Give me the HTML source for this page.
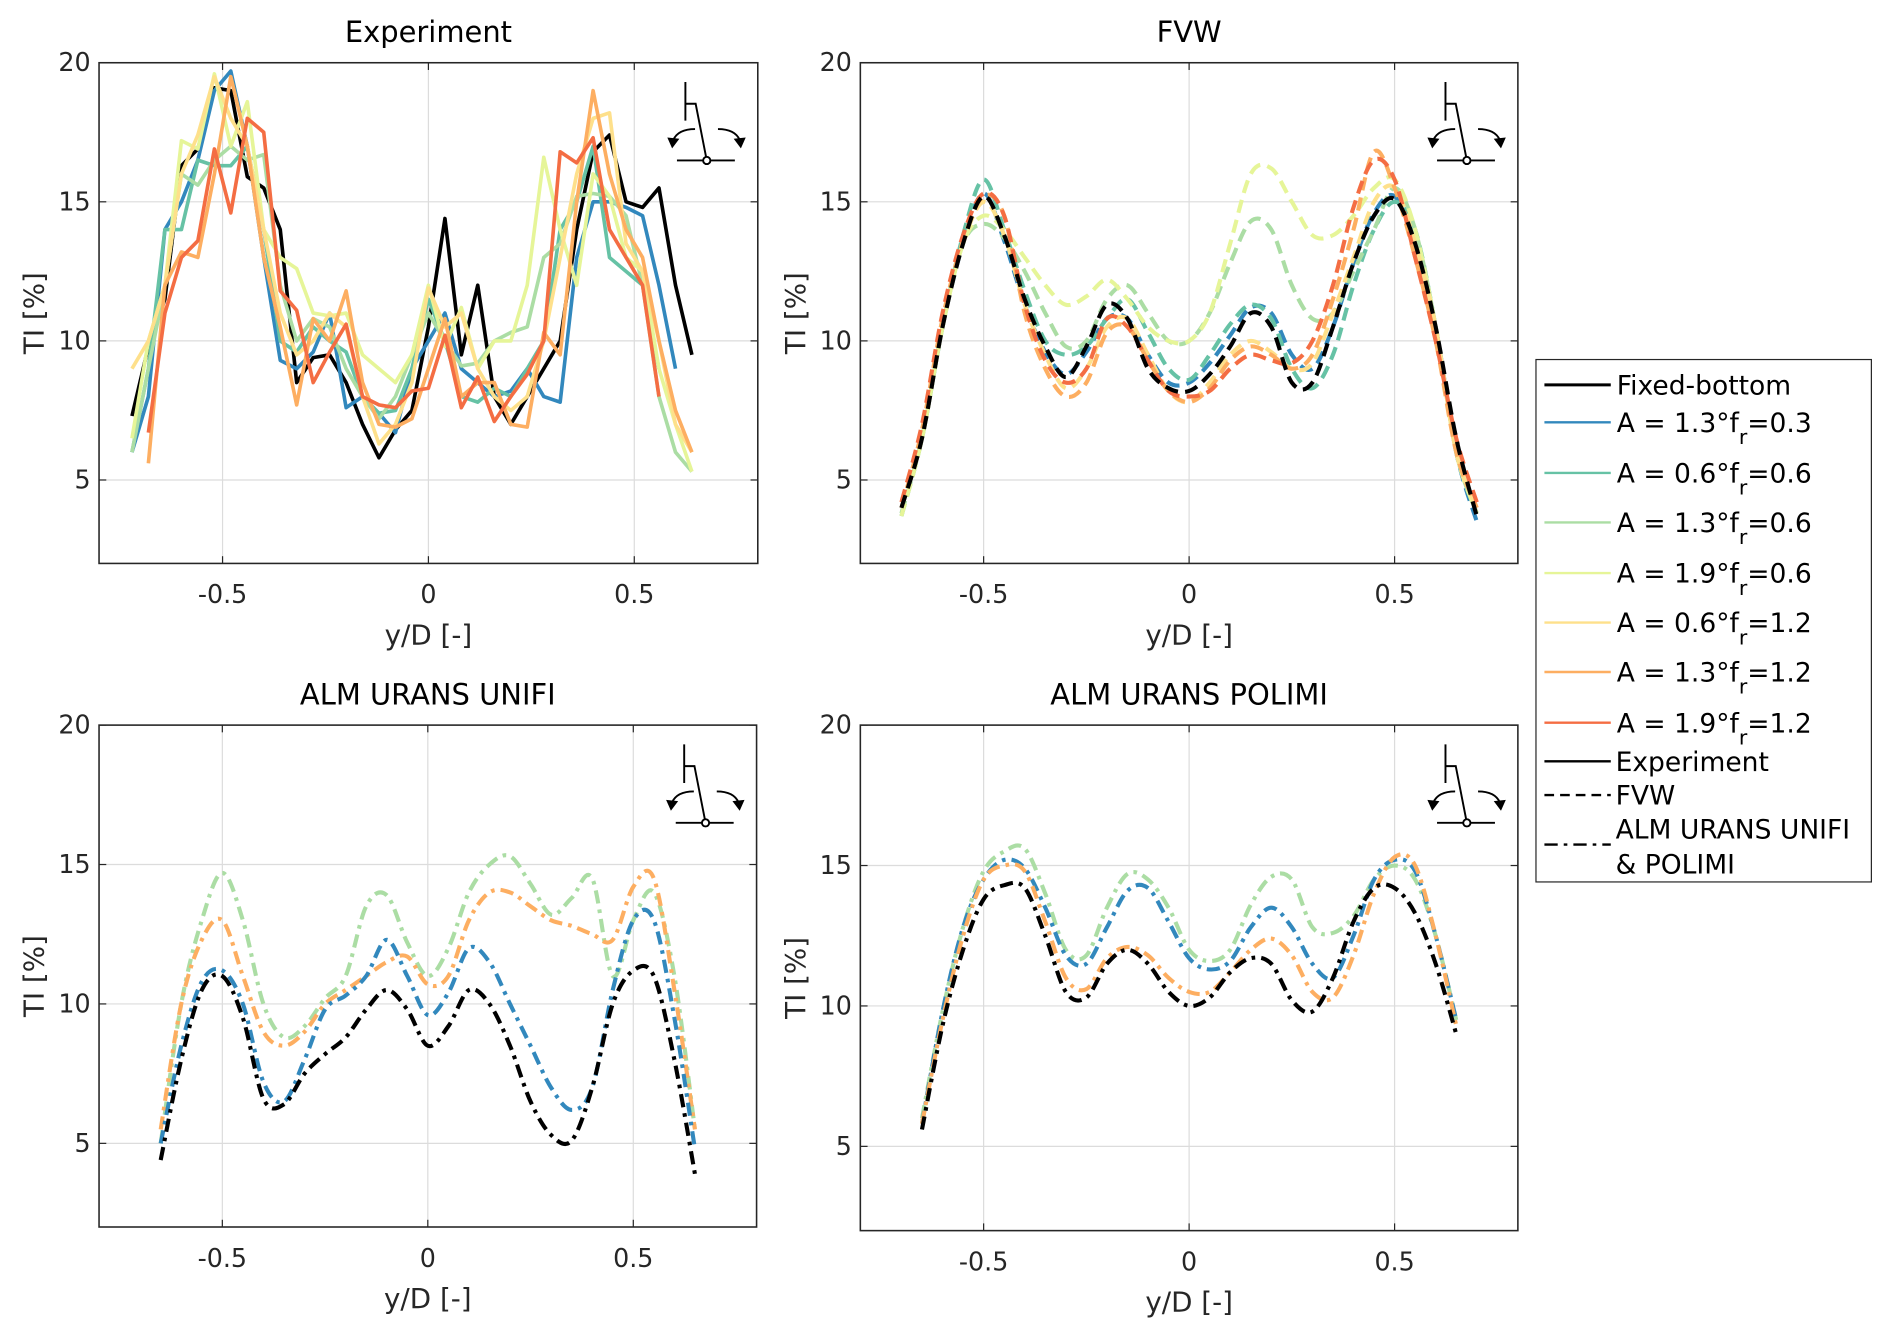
<!DOCTYPE html>
<html><head><meta charset="utf-8"><style>
html,body{margin:0;padding:0;background:#fff;}
svg{display:block;font-family:"DejaVu Sans","Liberation Sans",sans-serif;}
</style></head><body>
<svg id="chart" width="1892" height="1338" viewBox="0 0 1568 1109" xmlns="http://www.w3.org/2000/svg"></svg>
<script>
// ---------- data ----------
const seriesNames = ["Fixed-bottom","A = 1.3°f=0.3","A = 0.6°f=0.6","A = 1.3°f=0.6","A = 1.9°f=0.6","A = 0.6°f=1.2","A = 1.3°f=1.2","A = 1.9°f=1.2"];
const seriesColors = ["#000000","#3288bd","#66c2a5","#abdda4","#e6f598","#fee08b","#fdae61","#f46d43"];
const yTicks = [5,10,15,20];
const xTicks = [-0.5,0,0.5];
const xTickLabels = ["-0.5","0","0.5"];

// Experiment: x grid -0.72 .. 0.68 step 0.04
const expX = [-0.72,-0.68,-0.64,-0.60,-0.56,-0.52,-0.48,-0.44,-0.40,-0.36,-0.32,-0.28,-0.24,-0.20,-0.16,-0.12,-0.08,-0.04,0,0.04,0.08,0.12,0.16,0.20,0.24,0.28,0.32,0.36,0.40,0.44,0.48,0.52,0.56,0.60,0.64,0.68];
const expBlack = [7.3,9.8,11.5,16.3,16.9,19.1,19.0,15.9,15.5,14.0,8.5,9.4,9.5,8.5,7.0,5.8,6.8,7.5,10.5,14.4,9.5,12.0,8.0,7.0,8.0,9.0,10.0,14.0,16.8,17.4,15.0,14.8,15.5,12.0,9.5,null];
const expBlue = [6.0,8.0,14.0,15.0,16.5,19.0,19.7,17.0,13.0,9.3,9.0,9.6,11.0,7.6,8.0,7.4,6.7,9.0,10.0,11.0,9.0,8.5,8.0,8.2,9.0,8.0,7.8,13.0,15.0,15.0,14.8,14.5,12.0,9.0,null,null];
const expGreen = [6.0,9.0,14.0,14.0,16.5,16.3,16.3,17.0,14.0,10.0,9.6,10.5,10.0,9.6,8.0,7.4,7.5,9.0,11.5,10.0,8.0,7.8,8.3,8.0,9.0,10.0,14.0,15.0,17.0,13.0,12.5,12.0,9.0,null,null,null];
const expLightGreen = [6.0,9.0,12.0,16.0,15.6,16.5,17.0,16.5,16.7,12.0,10.0,10.8,10.5,9.0,8.0,7.2,8.0,9.5,11.0,10.0,9.1,9.2,10.0,10.3,10.5,13.0,13.5,15.2,15.3,15.2,14.5,12.0,8.0,6.0,5.3,null];
const expYellowGreen = [6.5,10.0,12.0,17.2,16.9,19.6,17.0,18.6,14.0,13.0,12.6,11.0,10.9,11.0,9.5,9.0,8.5,9.5,12.0,9.8,11.2,9.0,10.0,10.0,12.0,16.6,14.0,12.0,16.0,15.2,13.0,12.5,9.0,7.0,5.3,null];
const expYellow = [9.0,10.0,12.0,16.0,17.4,19.5,18.0,17.0,14.0,11.0,9.5,10.0,11.0,10.5,8.0,6.3,7.0,8.5,11.9,10.5,11.0,9.0,8.0,7.5,8.0,10.0,13.0,16.0,18.0,18.2,13.5,12.5,10.0,7.0,6.0,null];
const expOrange = [null,5.6,12.0,13.2,13.0,16.0,19.5,17.0,13.0,10.5,7.7,10.8,10.0,11.8,8.5,7.0,6.9,7.2,9.0,10.8,8.0,8.5,8.5,7.0,6.9,10.3,9.5,15.0,19.0,16.0,14.0,13.0,10.0,7.5,6.0,null];
const expRed = [null,6.7,11.0,13.0,13.6,16.9,14.6,18.0,17.5,11.8,11.1,8.5,9.6,10.6,8.0,7.7,7.6,8.2,8.3,10.2,7.6,8.7,7.1,8.0,8.8,10.0,16.8,16.4,17.3,14.0,13.0,12.0,8.0,null,null,null];

// FVW: x grid -0.70 .. 0.70 step 0.05
const fvwX = [-0.70,-0.65,-0.60,-0.55,-0.50,-0.45,-0.40,-0.35,-0.30,-0.25,-0.20,-0.15,-0.10,-0.05,0,0.05,0.10,0.15,0.20,0.25,0.30,0.35,0.40,0.45,0.50,0.55,0.60,0.65,0.70];
const fvwBlack = [4.0,6.5,10.5,13.5,15.2,13.8,11.5,9.8,8.7,9.8,11.3,10.8,9.0,8.3,8.2,8.8,9.8,11.0,10.5,8.5,8.5,10.5,12.8,14.5,15.1,13.5,10.5,6.5,3.7];
const fvwBlue = [4.0,6.5,10.5,13.5,15.3,13.6,11.3,9.6,8.8,9.6,10.8,10.8,9.5,8.5,8.5,9.2,10.2,11.2,11.0,9.5,9.0,10.5,12.8,14.6,15.2,13.5,10.5,6.0,3.5];
const fvwGreen = [3.7,6.5,10.5,13.8,15.8,14.0,11.8,10.0,9.5,9.8,10.8,11.5,10.3,9.0,8.6,9.5,10.6,11.3,10.8,9.0,8.3,9.5,12.0,14.0,15.0,14.0,10.5,6.0,3.8];
const fvwLightGreen = [3.8,6.5,10.5,13.5,14.2,13.7,12.5,11.0,9.8,10.0,11.5,12.0,11.0,10.0,10.0,11.0,12.8,14.3,14.0,12.0,10.8,11.0,12.5,14.0,15.5,14.0,10.5,6.0,3.8];
const fvwYellowGreen = [3.7,6.5,10.5,13.5,14.5,14.0,13.0,12.0,11.3,11.6,12.2,11.5,10.5,10.0,10.0,11.0,13.5,16.0,16.2,15.0,13.8,13.8,14.5,15.5,15.8,14.0,10.5,6.0,3.8];
const fvwYellow = [4.0,6.5,10.5,13.5,15.0,13.8,11.3,9.5,8.3,9.0,10.5,10.8,9.5,8.2,7.8,8.5,9.5,10.0,9.6,9.0,9.2,11.0,13.0,15.0,15.5,13.5,10.5,6.0,4.0];
const fvwOrange = [4.0,6.8,10.8,13.6,15.2,14.5,11.0,9.0,8.0,8.5,10.3,10.5,9.3,8.2,7.8,8.3,9.3,9.8,9.5,9.0,9.5,11.5,14.0,16.8,15.5,13.0,10.0,6.0,4.0];
const fvwRed = [4.2,7.0,11.0,13.8,15.3,14.5,11.3,9.3,8.5,9.0,10.8,10.5,9.3,8.2,8.0,8.2,9.0,9.5,9.3,9.2,10.0,12.0,14.8,16.5,15.8,13.0,10.0,6.5,4.2];

// ALM: x grid -0.65 .. 0.65 step 0.05
const almX = [-0.65,-0.60,-0.55,-0.50,-0.45,-0.40,-0.35,-0.30,-0.25,-0.20,-0.15,-0.10,-0.05,0,0.05,0.10,0.15,0.20,0.25,0.30,0.35,0.40,0.45,0.50,0.55,0.60,0.65];
const unifiBlack = [4.4,8.0,10.5,11.0,9.5,6.6,6.4,7.5,8.2,8.8,9.8,10.5,9.8,8.5,9.2,10.5,10.0,8.5,6.5,5.3,5.1,7.0,10.0,11.2,11.0,8.0,3.9];
const unifiBlue = [5.0,8.5,10.8,11.2,10.0,7.2,6.5,8.0,9.8,10.3,11.0,12.3,11.0,9.6,10.4,12.0,11.5,10.0,8.5,7.0,6.2,7.0,10.5,13.0,13.0,9.5,4.8];
const unifiLightGreen = [5.0,10.0,13.0,14.7,13.0,10.0,8.8,9.2,10.2,11.0,13.5,13.9,12.2,11.0,12.0,14.0,15.0,15.3,14.3,13.2,13.8,14.5,11.0,13.0,14.0,11.0,5.5];
const unifiOrange = [5.5,10.0,12.3,13.0,11.0,9.0,8.5,9.0,10.0,10.5,11.0,11.5,11.7,10.7,11.0,13.0,14.0,14.0,13.5,13.0,12.8,12.5,12.3,14.2,14.5,10.5,5.5];
const polimiBlack = [5.6,9.3,12.0,13.8,14.3,14.2,12.5,10.5,10.3,11.5,12.0,11.5,10.5,10.0,10.3,11.2,11.7,11.5,10.2,9.8,11.0,13.0,14.2,14.2,13.3,11.5,9.0];
const polimiBlue = [5.8,9.8,12.8,14.5,15.2,14.9,13.5,11.8,11.5,12.8,14.1,14.2,13.0,11.7,11.3,11.6,12.8,13.5,12.8,11.5,11.0,12.5,14.5,15.2,14.8,12.5,9.5];
const polimiLightGreen = [6.0,9.8,12.8,14.8,15.5,15.6,14.0,12.0,11.8,13.5,14.7,14.5,13.5,12.0,11.6,12.0,13.6,14.6,14.5,12.8,12.6,13.2,14.5,15.0,14.5,12.5,9.5];
const polimiOrange = [5.8,9.5,12.5,14.5,15.0,14.8,13.0,11.0,10.6,11.7,12.1,11.8,11.0,10.5,10.5,11.2,12.0,12.4,11.8,10.5,10.3,11.8,14.0,15.3,15.0,12.5,9.3];

// ---------- drawing ----------
const NS = "http://www.w3.org/2000/svg";
const svg = document.getElementById("chart");
function mk(tag, attrs, parent) {
  const e = document.createElementNS(NS, tag);
  for (const k in attrs) e.setAttribute(k, attrs[k]);
  (parent || svg).appendChild(e);
  return e;
}
const panels = [
  {name:"experiment", title:"Experiment", L:82, R:628, T:52, B:467, style:"solid", smooth:false, x:expX,
   ser:[[0,expBlack],[1,expBlue],[2,expGreen],[3,expLightGreen],[4,expYellowGreen],[5,expYellow],[6,expOrange],[7,expRed]]},
  {name:"fvw", title:"FVW", L:713, R:1258, T:52, B:467, style:"dash", smooth:true, x:fvwX,
   ser:[[1,fvwBlue],[2,fvwGreen],[3,fvwLightGreen],[4,fvwYellowGreen],[5,fvwYellow],[6,fvwOrange],[7,fvwRed],[0,fvwBlack]]},
  {name:"alm-unifi", title:"ALM URANS UNIFI", L:82, R:627, T:601, B:1017, style:"dashdot", smooth:true, x:almX,
   ser:[[3,unifiLightGreen],[6,unifiOrange],[1,unifiBlue],[0,unifiBlack]]},
  {name:"alm-polimi", title:"ALM URANS POLIMI", L:713, R:1258, T:601, B:1020, style:"dashdot", smooth:true, x:almX,
   ser:[[3,polimiLightGreen],[1,polimiBlue],[6,polimiOrange],[0,polimiBlack]]}
];
const dashes = {solid:"", dash:"11,6", dashdot:"11,5,3,5"};

function smoothPath(pts){
  let d = "M"+pts[0][0]+","+pts[0][1];
  for (let i=0;i<pts.length-1;i++){
    const p0=pts[Math.max(0,i-1)], p1=pts[i], p2=pts[i+1], p3=pts[Math.min(pts.length-1,i+2)];
    const c1=[p1[0]+(p2[0]-p0[0])/6, p1[1]+(p2[1]-p0[1])/6];
    const c2=[p2[0]-(p3[0]-p1[0])/6, p2[1]-(p3[1]-p1[1])/6];
    d += " C"+c1[0].toFixed(2)+","+c1[1].toFixed(2)+" "+c2[0].toFixed(2)+","+c2[1].toFixed(2)+" "+p2[0].toFixed(2)+","+p2[1].toFixed(2);
  }
  return d;
}

panels.forEach(p => {
  const g = mk("g", {});
  
  
  const xs = v => p.L + (v + 0.8) / 1.6 * (p.R - p.L);
  const ys = v => p.B - (v - 2) / 18 * (p.B - p.T);
  yTicks.forEach(t => {
    const ln = mk("line", {x1:p.L, x2:p.R, y1:ys(t), y2:ys(t), stroke:"#dcdcdc", "stroke-width":1}, g);
    
    
    mk("line", {x1:p.L, x2:p.L+6, y1:ys(t), y2:ys(t), stroke:"#262626", "stroke-width":1}, g);
    mk("line", {x1:p.R-6, x2:p.R, y1:ys(t), y2:ys(t), stroke:"#262626", "stroke-width":1}, g);
    const tx = mk("text", {x:p.L-7, y:ys(t)+7, "text-anchor":"end", "font-size":21, fill:"#262626"}, g);
    tx.textContent = String(t);
    
    
  });
  xTicks.forEach((t, i) => {
    const ln = mk("line", {x1:xs(t), x2:xs(t), y1:p.T, y2:p.B, stroke:"#dcdcdc", "stroke-width":1}, g);
    
    
    mk("line", {x1:xs(t), x2:xs(t), y1:p.B-6, y2:p.B, stroke:"#262626", "stroke-width":1}, g);
    mk("line", {x1:xs(t), x2:xs(t), y1:p.T, y2:p.T+6, stroke:"#262626", "stroke-width":1}, g);
    const tx = mk("text", {x:xs(t), y:p.B+33, "text-anchor":"middle", "font-size":21, fill:"#262626"}, g);
    tx.textContent = xTickLabels[i];
    
    
  });
  p.ser.forEach(([ci, vals]) => {
    const pts = [];
    vals.forEach((v, i) => { if (v !== null) pts.push([xs(p.x[i]), ys(v)]); });
    let el;
    if (p.smooth) {
      el = mk("path", {d:smoothPath(pts), fill:"none", stroke:seriesColors[ci], "stroke-width":3.4, "stroke-dasharray":dashes[p.style]}, g);
    } else {
      el = mk("polyline", {points:pts.map(q=>q[0].toFixed(1)+","+q[1].toFixed(1)).join(" "), fill:"none", stroke:seriesColors[ci], "stroke-width":3, "stroke-linejoin":"round"}, g);
    }
    
    
  });
  const fr = mk("rect", {x:p.L, y:p.T, width:p.R-p.L, height:p.B-p.T, fill:"none", stroke:"#262626", "stroke-width":1.3}, g);
  
  
  const ti = mk("text", {x:(p.L+p.R)/2, y:p.T-17, "text-anchor":"middle", "font-size":24, fill:"#000"}, g);
  ti.textContent = p.title;
  
  
  const xl = mk("text", {x:(p.L+p.R)/2, y:p.B+67, "text-anchor":"middle", "font-size":23, fill:"#262626"}, g);
  xl.textContent = "y/D [-]";
  
  
  const cy = (p.T+p.B)/2, cx = p.L-46;
  const yl = mk("text", {x:cx, y:cy, "text-anchor":"middle", "font-size":23, fill:"#262626", transform:"rotate(-90 "+cx+" "+cy+")"}, g);
  yl.textContent = "TI [%]";
  
  
  const ic = mk("g", {transform:"translate("+p.R+","+p.T+")", stroke:"#000", fill:"none", "stroke-width":1.6}, g);
  
  
  mk("path", {d:"M-60,16 L-60,48 M-60,34 L-51.5,34 L-42.3,81 M-67,81 L-19,81"}, ic);
  mk("circle", {cx:-42.3, cy:81, r:3, fill:"#fff"}, ic);
  mk("path", {d:"M-52,55 Q-66,55 -70,64 M-33,55 Q-19,55 -15,64"}, ic);
  mk("path", {d:"M-75,62 L-71,71 L-65,63 Z M-20,63 L-14,71 L-10,62 Z", fill:"#000", stroke:"none"}, ic);
});

// legend
const lg = mk("g", {});


mk("rect", {x:1273, y:298, width:278, height:433, fill:"#fff", stroke:"#262626", "stroke-width":1}, lg);
const rowY = [319,350,392,433,475,516,557,599];
seriesNames.forEach((n, i) => {
  const en = mk("g", {}, lg);
  
  
  mk("line", {x1:1280, x2:1335, y1:rowY[i], y2:rowY[i], stroke:seriesColors[i], "stroke-width":i===0?2.5:2}, en);
  const t = mk("text", {x:1340, y:rowY[i]+8, "font-size":22, fill:"#000"}, en);
  if (i === 0) { t.textContent = n; }
  else {
    const parts = n.split("f=");
    const a = mk("tspan", {}, t); a.textContent = parts[0] + "f";
    const b = mk("tspan", {dy:10, "font-size":17}, t); b.textContent = "r";
    const c = mk("tspan", {dy:-10}, t); c.textContent = "=" + parts[1];
  }
});
const styleRows = [["Experiment",631,""],["FVW",659,"8,5"],["ALM URANS UNIFI",687,"11,5,3,5"]];
styleRows.forEach(([n, y, d]) => {
  const en = mk("g", {}, lg);
  
  
  const ly = n === "ALM URANS UNIFI" ? 700 : y;
  mk("line", {x1:1280, x2:1335, y1:ly, y2:ly, stroke:"#000", "stroke-width":2, "stroke-dasharray":d}, en);
  const t = mk("text", {x:1339, y:y+8, "font-size":22, fill:"#000"}, en);
  t.textContent = n;
});
const t2 = mk("text", {x:1339, y:724, "font-size":22, fill:"#000"}, lg);
t2.textContent = "& POLIMI";
</script>
</body></html>
